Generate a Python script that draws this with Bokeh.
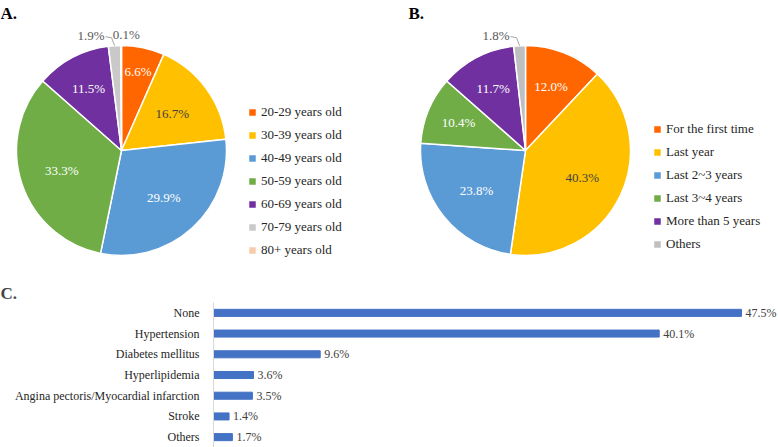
import numpy as np
from bokeh.plotting import figure
from bokeh.models import (Range1d, FactorRange, Legend, LegendItem, Label,
                          ColumnDataSource)
from bokeh.core.properties import value
from bokeh.layouts import column, row
from bokeh.embed import file_html
from bokeh.resources import INLINE

# ---------------- data ----------------
age_groups = ["20-29 years old", "30-39 years old", "40-49 years old",
              "50-59 years old", "60-69 years old", "70-79 years old",
              "80+ years old"]
age_pct = [6.6, 16.7, 29.9, 33.3, 11.5, 1.9, 0.1]

visit_groups = ["For the first time", "Last year", "Last 2~3 years",
                "Last 3~4 years", "More than 5 years", "Others"]
visit_pct = [12.0, 40.3, 23.8, 10.4, 11.7, 1.8]

diseases = ["None", "Hypertension", "Diabetes mellitus", "Hyperlipidemia",
            "Angina pectoris/Myocardial infarction", "Stroke", "Others"]
disease_pct = [47.5, 40.1, 9.6, 3.6, 3.5, 1.4, 1.7]

# ---------------- style ----------------
FONT = "Liberation Serif"
age_colors = ["#FF6600", "#FFC000", "#5B9BD5", "#70AD47", "#7030A0",
              "#C9C9C9", "#F8CBAD"]
visit_colors = ["#FF6600", "#FFC000", "#5B9BD5", "#70AD47", "#7030A0",
                "#BFBFBF"]
DARK_ON = {"#FFC000"}
R = 105
TOP_H = 280


def pie_panel(labels, pcts, colors, width, cx, cy_top, title,
              title_x, legend_loc):
    height = TOP_H
    p = figure(width=width, height=height, output_backend="svg",
               toolbar_location=None, min_border=0,
               x_range=Range1d(-cx, width - cx),
               y_range=Range1d(-(height - cy_top), cy_top))
    p.axis.visible = False
    p.grid.visible = False
    p.outline_line_color = None

    vals = np.array(pcts, dtype=float)
    frac = vals / vals.sum()
    c1 = np.cumsum(frac)
    c0 = c1 - frac
    start = np.pi / 2 - 2 * np.pi * c0
    end = np.pi / 2 - 2 * np.pi * c1
    items = []
    for i, lab in enumerate(labels):
        r = p.wedge(x=0, y=0, radius=R, start_angle=start[i],
                    end_angle=end[i], direction="clock",
                    fill_color=colors[i], line_color="white", line_width=1.5)
        items.append(LegendItem(label=lab, renderers=[r]))

    mid = 2 * np.pi * (c0 + c1) / 2  # clockwise from top
    in_x, in_y, in_t, in_c = [], [], [], []
    for i, v in enumerate(vals):
        txt = f"{v:.1f}%"
        if v >= 2.5:
            lr = R * (0.6 + 0.3 * max(0.0, (15 - v) / 15))
            in_x.append(lr * np.sin(mid[i]))
            in_y.append(lr * np.cos(mid[i]))
            in_t.append(txt)
            in_c.append("#404040" if colors[i] in DARK_ON else "white")
        else:
            ex, ey = R * np.sin(mid[i]), R * np.cos(mid[i])
            if v >= 0.5:
                p.line(x=[ex, ex - 3, ex - 9], y=[ey, ey + 8, ey + 9],
                       line_color="#A6A6A6", line_width=1)
                p.text(x=[ex - 10], y=[ey + 10], text=[txt],
                       text_align="right", text_baseline="middle",
                       text_font=value(FONT), text_font_size="13px",
                       text_color="#595959")
            else:
                p.text(x=[ex + 5], y=[ey + 11], text=[txt],
                       text_align="center", text_baseline="middle",
                       text_font=value(FONT), text_font_size="13px",
                       text_color="#595959")
    p.text(x=in_x, y=in_y, text=in_t, text_color=in_c, text_align="center",
           text_baseline="middle", text_font=value(FONT),
           text_font_size="13px")

    leg = Legend(items=items, location=legend_loc, padding=0, margin=0,
                 spacing=7, glyph_width=10, glyph_height=10,
                 label_height=14, label_standoff=4,
                 label_text_font=FONT, label_text_font_size="13px",
                 label_text_color="#262626", border_line_color=None,
                 background_fill_alpha=0)
    p.add_layout(leg, "center")
    p.add_layout(Label(x=title_x, y=height - 3, x_units="screen",
                       y_units="screen", text=title, text_font=FONT,
                       text_font_style="bold", text_font_size="17px",
                       text_baseline="top", text_color="black"))
    return p


pA = pie_panel(age_groups, age_pct, age_colors, 390, 121, 150,
               "A.", 0, (247, 22), )
pB = pie_panel(visit_groups, visit_pct, visit_colors, 388, 135, 150,
               "B.", 18, (262, 28))

# ---------------- bar panel ----------------
src = ColumnDataSource(dict(cat=diseases, val=disease_pct,
                            lab=[f"{v:.1f}%" for v in disease_pct]))
pC = figure(width=778, height=167, output_backend="svg",
            toolbar_location=None, y_range=FactorRange(*diseases[::-1]),
            x_range=Range1d(0, 50.83), min_border_left=213,
            min_border_right=0, min_border_top=22, min_border_bottom=0,
            title="C.")
pC.title.text_font = FONT
pC.title.text_font_style = "bold"
pC.title.text_font_size = "17px"
pC.title.align = "left"
pC.title.offset = -213
pC.title.standoff = 0
pC.hbar(y="cat", right="val", height=0.34, source=src, color="#4472C4")
pC.text(x="val", y="cat", text="lab", source=src, x_offset=4,
        text_align="left", text_baseline="middle", text_font=value(FONT),
        text_font_size="12px", text_color="#404040")
pC.xaxis.visible = False
pC.grid.visible = False
pC.outline_line_color = None
ya = pC.yaxis[0]
ya.axis_line_color = "#D9D9D9"
ya.major_tick_line_color = None
ya.minor_tick_line_color = None
ya.major_label_standoff = 8
ya.major_label_text_font = FONT
ya.major_label_text_font_size = "12px"
ya.major_label_text_color = "#262626"

layout = column(row(pA, pB), pC)
open("out.html", "w").write(file_html(layout, INLINE))
